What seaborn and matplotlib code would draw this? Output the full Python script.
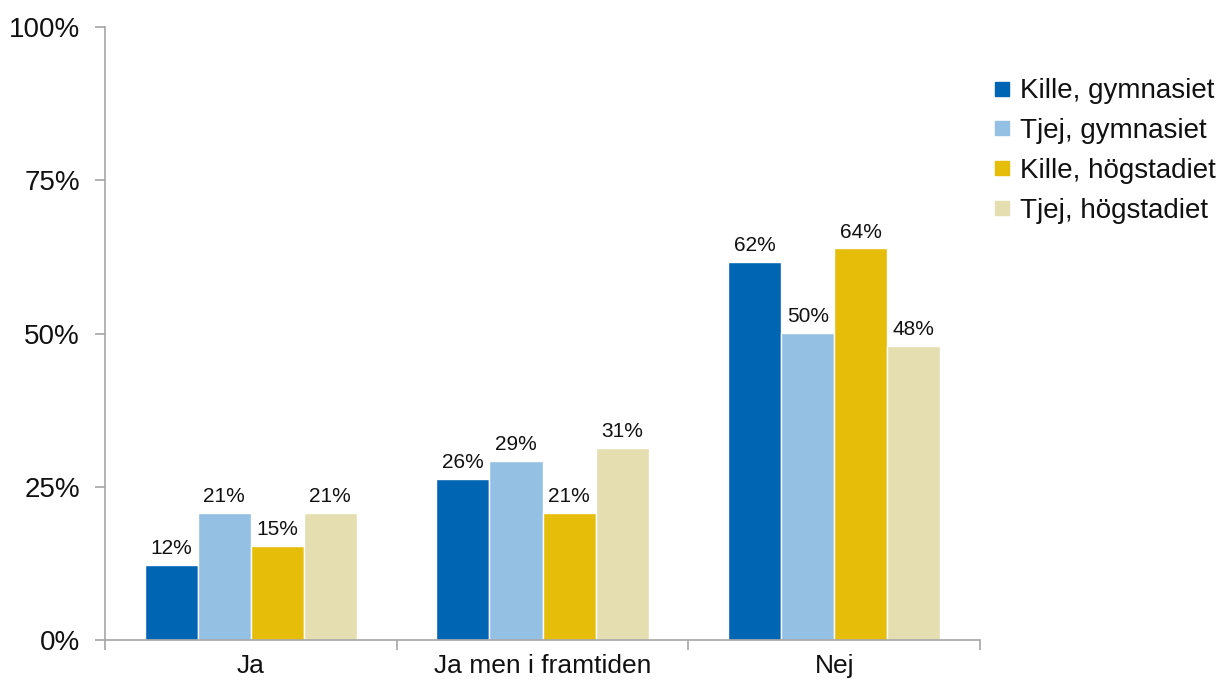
import matplotlib
matplotlib.use("Agg")
import matplotlib.pyplot as plt
from matplotlib.lines import Line2D
from matplotlib.ticker import FixedLocator
import seaborn as sns
import pandas as pd

categories = ["Ja", "Ja men i framtiden", "Nej"]
series = ["Kille, gymnasiet", "Tjej, gymnasiet", "Kille, högstadiet", "Tjej, högstadiet"]
kille_gym = [12.2, 26.3, 61.7]
tjej_gym = [20.7, 29.2, 50.1]
kille_hog = [15.3, 20.7, 63.9]
tjej_hog = [20.7, 31.3, 48.0]
labels = [["12%", "26%", "62%"], ["21%", "29%", "50%"], ["15%", "21%", "64%"], ["21%", "31%", "48%"]]
colors = ["#0066B3", "#93C0E3", "#E6BE0A", "#E5DEB0"]

rows = []
for s, vals in zip(series, [kille_gym, tjej_gym, kille_hog, tjej_hog]):
    for c, v in zip(categories, vals):
        rows.append({"cat": c, "series": s, "val": v})
df = pd.DataFrame(rows)

sns.set_theme(style="white")
plt.rcParams["font.family"] = ["Liberation Sans", "DejaVu Sans"]
plt.rcParams["text.color"] = "#111111"

fig = plt.figure(figsize=(12.22, 6.81), dpi=100)
ax = fig.add_axes([0.0859, 0.0602, 0.7161, 0.8998])
sns.barplot(data=df, x="cat", y="val", hue="series", order=categories, hue_order=series,
            palette=colors, width=0.727, saturation=1, ax=ax, legend=False)

for cont, labs in zip(ax.containers, labels):
    ax.bar_label(cont, labels=labs, padding=5, fontsize=15, color="#111111")

ax.set_ylim(0, 100)
ax.set_xlim(-0.5, 2.5)
ax.set_yticks([0, 25, 50, 75, 100])
ax.set_yticklabels(["0%", "25%", "50%", "75%", "100%"], fontsize=20, color="#111111")
ax.set_xticks([0, 1, 2])
ax.set_xticklabels(categories, fontsize=19, color="#111111")
ax.xaxis.set_minor_locator(FixedLocator([-0.5, 0.5, 1.5, 2.5]))
ax.tick_params(axis="x", which="major", length=0, pad=10)
ax.tick_params(axis="x", which="minor", length=7, color="#A6A6A6", width=1.2, direction="out", bottom=True)
ax.tick_params(axis="y", length=7, color="#A6A6A6", width=1.2, direction="out", left=True, pad=11)
ax.set_xlabel("")
ax.set_ylabel("")
for side in ["top", "right"]:
    ax.spines[side].set_visible(False)
for side in ["left", "bottom"]:
    ax.spines[side].set_color("#A6A6A6")
    ax.spines[side].set_linewidth(1.2)

handles = [Line2D([], [], marker="s", linestyle="", markersize=10, markerfacecolor=c, markeredgecolor=c)
           for c in colors]
fig.legend(handles, series, loc="upper left", bbox_to_anchor=(0.813, 0.885), frameon=False,
           fontsize=20, handlelength=0.6, handletextpad=0.35, labelspacing=0.5, borderaxespad=0,
           borderpad=0, labelcolor="#111111")

fig.savefig("out.png", dpi=100)
